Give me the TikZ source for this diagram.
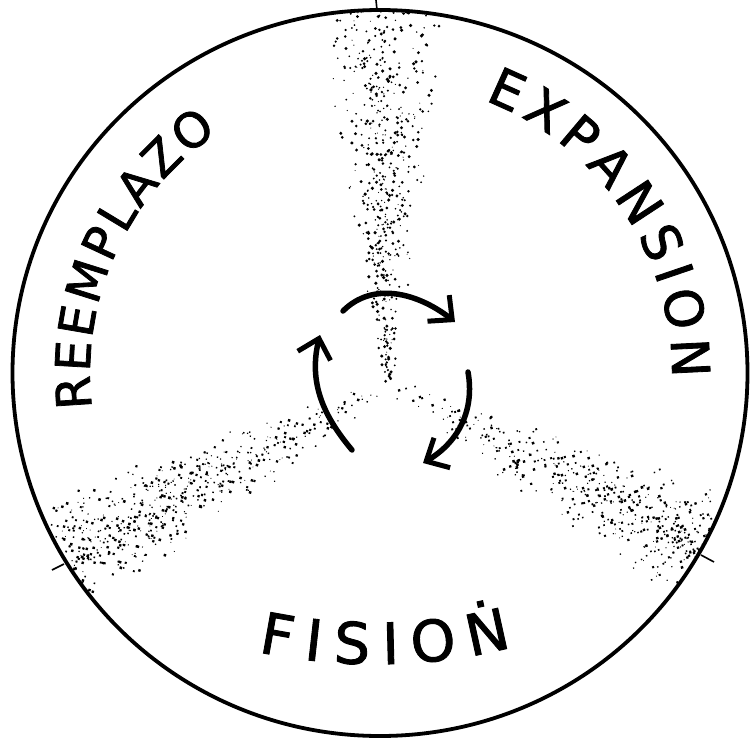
\documentclass[tikz,border=0pt]{standalone}
\usepackage{fontspec}
\setmainfont{DejaVu Sans}
\newfontfamily\handfont[FakeBold=1.6]{DejaVu Sans}
\usetikzlibrary{arrows.meta,bending,decorations.text}
\tikzset{
  rim/.style={line width=3.8pt},
  tickmark/.style={line width=1.6pt},
  cyclearrow/.style={line width=5.5pt, line cap=round,
    -{Straight Barb[length=18pt,width=34pt,line width=5pt]}},
  curvedlabel/.style={decorate, decoration={text along path, text align={fit to path}, text={#1}}},
}
\newcommand{\stippleband}[8]{%
  \begin{scope}[shift={(#1,#2)},rotate=#3]
    \foreach \k in {1,...,#8}{%
      \pgfmathsetmacro{\bt}{rnd^(#7)}%
      \pgfmathsetmacro{\bs}{(rnd+rnd-1)*(#5+(#6-#5)*\bt)}%
      \pgfmathsetmacro{\br}{0.5+1.3*rnd}%
      \fill (\bt*#4,\bs) circle (\br pt);
    }
  \end{scope}}
\begin{document}
\begin{tikzpicture}[x=1pt,y=1pt]
  \useasboundingbox (0,0) rectangle (750,-739);
  \fill[white] (0,0) rectangle (750,-739);
  \pgfmathsetseed{7}
  % stippled bands
  \begin{scope}
    \clip (380,-373) ellipse [x radius=366, y radius=361];
    \stippleband{388}{-385}{91}{375}{5}{70}{0.75}{560}
    \stippleband{385}{-387}{208}{362}{12}{64}{0.5}{560}
    \stippleband{390}{-387}{-27}{362}{12}{64}{0.5}{520}
  \end{scope}
  % rim
  \draw[rim] (380,-373) ellipse [x radius=367.5, y radius=363];
  \draw[tickmark] (376,0) -- (377,-10);
  \draw[tickmark] (52,-570) -- (64,-564);
  \draw[tickmark] (701,-555) -- (714,-562);
  % labels
  \path[curvedlabel={|\handfont\fontsize{48}{48}\selectfont|REEMPLAZO}, shift={(380,-373)}]
    (187:290) arc[start angle=187, end angle=124, radius=290];
  \path[curvedlabel={|\handfont\fontsize{52}{52}\selectfont|EXPANSION}, shift={(380,-373)}]
    (69:292) arc[start angle=69, end angle=-1, radius=292];
  \path[curvedlabel={|\handfont\fontsize{57}{57}\selectfont|FISIOṄ}]
    (258,-652) .. controls (340,-669) and (430,-669) .. (512,-647);
  % cycle arrows
  \coordinate (t1) at (343,-311);
  \coordinate (h1) at (455,-322);
  \coordinate (t2) at (468,-372);
  \coordinate (h2) at (423,-463);
  \coordinate (t3) at (352,-450);
  \coordinate (h3) at (320,-335);
  \draw[cyclearrow] (t1) to[out=45,in=140] (h1);
  \draw[cyclearrow] (t2) to[out=-80,in=28] (h2);
  \draw[cyclearrow] (t3) to[out=130,in=-106] (h3);
\end{tikzpicture}
\end{document}
